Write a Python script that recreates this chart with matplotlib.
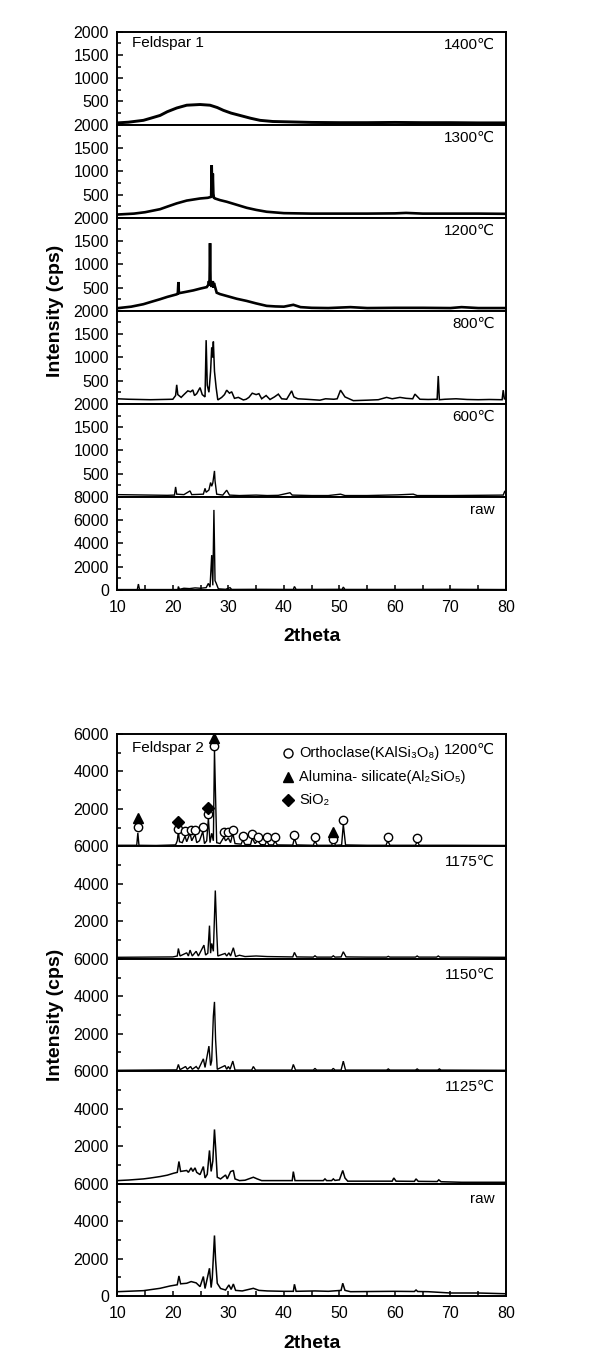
# Imports
import matplotlib
matplotlib.use("Agg")
import matplotlib.pyplot as plt
import numpy as np
from matplotlib.ticker import MultipleLocator, FixedLocator

# Fonts (DejaVu Sans as fallback for the degree sign and subscripts)
plt.rcParams["font.family"] = ["Liberation Sans", "DejaVu Sans"]

# Feldspar 1 patterns, (2theta, intensity in cps)
f1_1400 = [(10, 40), (12, 55), (14.7, 95), (16, 140), (17.7, 200), (19, 280), (20.7, 360),
           (22.5, 420), (24.9, 435), (26.7, 420), (28, 370), (29.1, 310), (30.5, 250),
           (32.1, 200), (34, 140), (35.7, 95), (38, 70), (41.6, 60), (45, 50), (50, 45),
           (55, 45), (60, 50), (65, 45), (70, 45), (75, 40), (80, 40)]
f1_1300 = [(10, 70), (13, 90), (15, 120), (17.7, 185), (19, 240), (20.7, 310), (22.5, 370),
           (24.9, 415), (26.3, 430), (26.9, 450), (27.0, 1130), (27.1, 450), (27.2, 950),
           (27.3, 520), (27.4, 430), (27.6, 415), (28.5, 380), (29.7, 345), (31.5, 280),
           (33.3, 215), (35, 170), (36.9, 130), (40, 100), (45, 90), (50, 90), (55, 90),
           (60, 95), (62, 105), (65, 90), (70, 90), (75, 90), (80, 85)]
f1_1200 = [(10, 57), (12.5, 90), (14.7, 143), (16, 190), (17.7, 250), (19, 300), (20.7, 355),
           (20.9, 370), (21.0, 620), (21.1, 380), (22, 400), (23.7, 440), (25, 480),
           (26.1, 510), (26.4, 560), (26.5, 640), (26.6, 540), (26.7, 1455), (26.8, 560),
           (27.0, 520), (27.2, 640), (27.3, 500), (27.4, 600), (27.9, 390), (28.5, 360),
           (29.7, 320), (31.5, 260), (33.3, 213), (35, 160), (36.9, 107), (38.5, 95),
           (40, 90), (41.7, 130), (43, 80), (45, 65), (48, 60), (50, 70), (52, 80),
           (55, 60), (60, 65), (65, 65), (70, 60), (72, 80), (75, 60), (80, 60)]
f1_800 = [(10, 110), (12, 100), (14, 95), (16, 90), (18, 95), (20, 100), (20.5, 180),
          (20.7, 410), (20.9, 200), (21.5, 140), (22, 200), (22.7, 280), (23.2, 260),
          (23.6, 300), (23.9, 180), (24.3, 220), (24.9, 350), (25.3, 200), (25.8, 150),
          (26.0, 1370), (26.2, 400), (26.5, 250), (26.8, 700), (27.0, 1210), (27.15, 1000),
          (27.3, 1340), (27.5, 700), (27.8, 350), (28.1, 85), (28.8, 140), (29.3, 200),
          (29.7, 295), (30.2, 230), (30.6, 260), (31.1, 120), (31.8, 140), (32.7, 85),
          (33.2, 100), (33.7, 140), (34.3, 230), (35.0, 200), (35.5, 220), (36.0, 110),
          (36.8, 180), (37.5, 95), (38.3, 150), (39.0, 210), (39.6, 110), (40.5, 100),
          (41.4, 280), (41.8, 150), (42.5, 110), (44, 100), (46.5, 80), (47.5, 110),
          (49, 100), (49.6, 110), (50.2, 295), (51, 150), (52.5, 70), (55, 80), (57, 90),
          (58.5, 140), (59.5, 110), (60.9, 140), (62, 120), (63.2, 110), (63.6, 210),
          (64.5, 100), (66, 95), (67.6, 100), (67.8, 600), (68.0, 90), (69, 100), (71, 110),
          (73, 95), (75, 90), (77, 95), (79.3, 90), (79.5, 295), (79.7, 110), (80, 100)]
f1_600 = [(10, 50), (13, 45), (16, 40), (19, 35), (20.3, 40), (20.5, 215), (20.7, 60),
          (22, 50), (23.1, 130), (23.4, 50), (24.5, 55), (25.5, 60), (25.8, 185), (26.0, 100),
          (26.5, 150), (26.8, 310), (27.0, 230), (27.2, 300), (27.5, 560), (27.6, 345),
          (27.9, 60), (29, 40), (29.7, 145), (30.2, 40), (32, 30), (35, 40), (37, 30),
          (39, 35), (41.1, 90), (41.5, 40), (45, 30), (48, 30), (50.2, 60), (51, 30),
          (55, 30), (60.5, 45), (63.3, 60), (64, 30), (70, 30), (75, 35), (79.5, 40),
          (79.8, 130), (80, 50)]
f1_raw = [(10, 40), (13.6, 40), (13.8, 510), (14.0, 40), (18, 40), (20.9, 40), (21.0, 300),
          (21.2, 60), (22, 150), (23, 120), (24, 180), (25, 150), (26, 200), (26.4, 565),
          (26.7, 250), (27.0, 3000), (27.2, 400), (27.4, 6885), (27.6, 800), (27.8, 595),
          (28.2, 100), (29.5, 60), (30.3, 200), (30.6, 50), (35, 60), (41.7, 50), (41.9, 300),
          (42.2, 50), (50.5, 60), (50.7, 250), (51, 50), (60, 50), (70, 60), (80, 40)]

f1_patterns = [f1_1400, f1_1300, f1_1200, f1_800, f1_600, f1_raw]
f1_labels = ["1400℃", "1300℃", "1200℃", "800℃", "600℃", "raw"]
f1_tops = [2000, 2000, 2000, 2000, 2000, 8000]
f1_major = [500, 500, 500, 500, 500, 2000]
f1_minor = [250, 250, 250, 250, 250, 1000]
f1_widths = [2.1, 1.9, 1.9, 1.1, 1.0, 1.0]

# Feldspar 2 patterns, (2theta, intensity in cps)
f2_1200 = [(10, 60), (13.5, 60), (13.7, 720), (13.9, 60), (17, 50), (20.5, 80), (20.8, 300),
           (21.0, 800), (21.2, 250), (21.7, 200), (22.2, 550), (22.5, 250), (23.1, 710),
           (23.4, 300), (24.0, 650), (24.3, 200), (24.8, 300), (25.4, 800), (25.7, 150),
           (26.1, 300), (26.4, 1490), (26.7, 200), (27.0, 700), (27.3, 300), (27.5, 5150),
           (27.7, 2600), (27.9, 200), (28.5, 150), (29.2, 500), (29.5, 300), (30.0, 450),
           (30.4, 200), (30.8, 700), (31.2, 150), (32.3, 120), (32.6, 350), (33, 100),
           (34.0, 100), (34.3, 450), (34.8, 150), (35.3, 300), (35.8, 100), (36.6, 80),
           (36.9, 300), (37.3, 80), (38.1, 80), (38.4, 300), (38.8, 80), (41.6, 70),
           (41.9, 450), (42.3, 80), (45.3, 60), (45.6, 300), (46, 60), (48.6, 60), (48.9, 300),
           (49.3, 60), (50.4, 80), (50.7, 1180), (51.1, 80), (55, 60), (58.4, 60), (58.7, 300),
           (59.1, 60), (63.7, 60), (64.0, 270), (64.4, 60), (70, 60), (80, 50)]
f2_1175 = [(10, 80), (15, 90), (20, 100), (20.8, 150), (21.0, 550), (21.3, 150), (22.5, 320),
           (22.8, 150), (23.1, 465), (23.5, 150), (24.2, 400), (24.6, 150), (25.6, 730),
           (25.9, 200), (26.3, 300), (26.6, 1770), (26.8, 300), (27.0, 820), (27.3, 400),
           (27.65, 3645), (27.9, 1480), (28.1, 150), (29.4, 285), (29.7, 150), (30.1, 320),
           (30.4, 150), (30.9, 590), (31.3, 120), (32.0, 190), (33, 120), (35, 150),
           (37, 120), (41.6, 100), (41.9, 340), (42.3, 100), (45.3, 90), (45.6, 160),
           (45.9, 90), (48.6, 90), (48.9, 160), (49.2, 90), (50.3, 100), (50.7, 375),
           (51.2, 100), (55, 90), (58.5, 90), (58.8, 130), (59.1, 90), (63.7, 90), (64, 150),
           (64.3, 90), (67.5, 90), (67.8, 150), (68.1, 90), (72, 90), (80, 80)]
f2_1150 = [(10, 50), (15, 60), (20.7, 70), (21.0, 360), (21.3, 80), (22.3, 250), (22.6, 100),
           (23.2, 250), (23.5, 100), (24.2, 250), (24.6, 100), (25.5, 660), (25.8, 200),
           (26.5, 1340), (26.8, 300), (27.0, 560), (27.3, 2950), (27.5, 3700), (27.7, 1700),
           (28.0, 100), (29.4, 300), (29.7, 100), (30.0, 250), (30.3, 100), (30.8, 540),
           (31.2, 60), (34.2, 60), (34.5, 250), (34.9, 60), (41.4, 60), (41.7, 360),
           (42.1, 60), (45.3, 60), (45.6, 150), (45.9, 60), (48.6, 60), (48.9, 150),
           (49.2, 60), (50.3, 60), (50.7, 536), (51.1, 60), (58.5, 60), (58.8, 120),
           (59.1, 60), (63.7, 60), (64, 120), (64.3, 60), (67.7, 60), (68, 120), (68.3, 60),
           (80, 50)]
f2_1125 = [(10, 160), (12, 190), (14.7, 250), (16, 300), (17.7, 375), (19, 450), (20.1, 550),
           (20.8, 600), (21.1, 1180), (21.4, 650), (22.5, 700), (22.8, 600), (23.3, 840),
           (23.6, 650), (24.0, 840), (24.3, 600), (24.9, 480), (25.5, 910), (25.8, 300),
           (26.2, 500), (26.6, 1770), (26.9, 650), (27.2, 1200), (27.5, 2890), (27.7, 1950),
           (28.0, 340), (28.6, 250), (29.5, 460), (29.8, 250), (30.4, 640), (30.9, 700),
           (31.2, 250), (32, 160), (33, 180), (34.5, 340), (35.2, 250), (36, 160), (38, 160),
           (41.5, 160), (41.7, 640), (42.0, 160), (45.6, 160), (47.1, 160), (47.4, 250),
           (47.7, 160), (48.6, 160), (48.9, 250), (49.2, 170), (50.0, 200), (50.6, 700),
           (51.0, 300), (51.5, 130), (55, 130), (59.5, 130), (59.8, 300), (60.2, 130),
           (63.5, 120), (63.8, 250), (64.2, 120), (67.6, 110), (67.9, 200), (68.3, 100),
           (72, 70), (80, 70)]
f2_raw = [(10, 230), (14.7, 285), (17.7, 410), (19.5, 535), (20.8, 600), (21.1, 1070),
          (21.4, 650), (22.5, 680), (23.3, 770), (24.2, 700), (24.9, 500), (25.5, 1040),
          (25.8, 400), (26.6, 1480), (26.9, 450), (27.1, 950), (27.5, 3230), (27.7, 1930),
          (28.0, 680), (28.6, 400), (29.5, 320), (30.1, 590), (30.5, 350), (30.9, 640),
          (31.3, 300), (32.5, 270), (34.5, 410), (35.5, 300), (37, 270), (40, 250),
          (41.7, 250), (41.9, 625), (42.2, 250), (45.6, 270), (48, 250), (50.3, 300),
          (50.6, 680), (51, 300), (52, 230), (59.8, 250), (63.5, 240), (63.8, 320),
          (64.1, 240), (66, 230), (70, 160), (75, 160), (80, 120)]

f2_patterns = [f2_1200, f2_1175, f2_1150, f2_1125, f2_raw]
f2_labels = ["1200℃", "1175℃", "1150℃", "1125℃", "raw"]
f2_tops = [6000, 6000, 6000, 6000, 6000]
f2_major = [2000, 2000, 2000, 2000, 2000]
f2_minor = [1000, 1000, 1000, 1000, 1000]
f2_widths = [1.0, 1.0, 1.0, 1.1, 1.1]

# Phase markers on the Feldspar 2, 1200 C pattern
ortho_x = [13.7, 21.0, 22.2, 23.3, 24.0, 25.4, 26.4, 27.5, 29.2, 30.0, 30.8, 32.6, 34.3,
           35.3, 36.9, 38.4, 41.9, 45.6, 48.9, 50.7, 58.7, 64.0]
ortho_y = [1020, 950, 840, 900, 860, 1020, 1710, 5350, 770, 760, 850, 540, 670,
           500, 500, 500, 630, 500, 410, 1400, 500, 470]
alumina_x = [13.7, 27.5, 48.9]
alumina_y = [1530, 5760, 770]
sio2_x = [21.0, 26.4]
sio2_y = [1310, 2070]

# Figure geometry in pixels
FIG_W, FIG_H = 609, 1371
LEFT, RIGHT = 117.3, 506


def draw_stack(fig, top_px, bottom_px, patterns, labels, tops, majors, minors, widths, title):
    # Split the panel into equal sub-axes
    n = len(patterns)
    h = (bottom_px - top_px) / n
    axes = []
    for i in range(n):
        y0 = FIG_H - (top_px + (i + 1) * h)
        ax = fig.add_axes([LEFT / FIG_W, y0 / FIG_H, (RIGHT - LEFT) / FIG_W, h / FIG_H])

        # Plot the pattern
        data = np.array(patterns[i])
        ax.plot(data[:, 0], data[:, 1], color="black", lw=widths[i], solid_joinstyle="miter")

        # Axis limits and ticks
        ax.set_xlim(10, 80)
        ax.set_ylim(0, tops[i])
        ticks = np.arange(0, tops[i] + 1, majors[i])
        if i < n - 1:
            ticks = ticks[1:]
        ax.yaxis.set_major_locator(FixedLocator(ticks))
        ax.yaxis.set_minor_locator(MultipleLocator(minors[i]))
        ax.tick_params(axis="y", which="both", direction="in", labelsize=11.5, pad=6,
                       width=1.1, left=True, right=False)
        ax.tick_params(axis="y", which="major", length=4.5)
        ax.tick_params(axis="y", which="minor", length=3)

        if i == n - 1:
            ax.xaxis.set_major_locator(MultipleLocator(10))
            ax.xaxis.set_minor_locator(MultipleLocator(5))
            ax.tick_params(axis="x", which="both", direction="in", length=3.5, width=1.1,
                           labelsize=11.5, pad=7)
        else:
            ax.tick_params(axis="x", which="both", bottom=False, labelbottom=False)

        for spine in ax.spines.values():
            spine.set_linewidth(1.4)

        # Temperature label
        ax.text(0.972, 0.86, labels[i], transform=ax.transAxes, ha="right", va="center",
                fontsize=11)
        axes.append(ax)

    # Sample name
    axes[0].text(0.038, 0.875, title, transform=axes[0].transAxes, ha="left", va="center",
                 fontsize=11)

    # Axis titles
    fig.text(55 / FIG_W, 1 - (top_px + bottom_px) / 2 / FIG_H, "Intensity (cps)",
             rotation=90, ha="center", va="center", fontsize=14, fontweight="bold")
    fig.text((LEFT + RIGHT) / 2 / FIG_W, 1 - (bottom_px + 47) / FIG_H, "2theta",
             ha="center", va="center", fontsize=14, fontweight="bold")
    return axes


# Define the main function
def main():
    # Create a figure
    fig = plt.figure(figsize=(FIG_W / 100, FIG_H / 100), dpi=100)

    # Feldspar 1
    draw_stack(fig, 31.7, 590, f1_patterns, f1_labels, f1_tops, f1_major, f1_minor,
               f1_widths, "Feldspar 1")

    # Feldspar 2
    axes2 = draw_stack(fig, 734, 1296, f2_patterns, f2_labels, f2_tops, f2_major, f2_minor,
                       f2_widths, "Feldspar 2")

    # Phase markers and their key
    ax = axes2[0]
    ax.plot(ortho_x, ortho_y, "o", ms=6, mfc="white", mec="black", mew=1.0, clip_on=False)
    ax.plot(alumina_x, alumina_y, "^", ms=7, color="black", clip_on=False)
    ax.plot(sio2_x, sio2_y, "D", ms=6, color="black", clip_on=False)

    key = [("o", "white", 0.835, "Orthoclase(KAlSi₃O₈)"),
           ("^", "black", 0.62, "Alumina- silicate(Al₂SiO₅)"),
           ("D", "black", 0.41, "SiO₂")]
    for marker, face, yf, text in key:
        ax.plot([0.438], [yf], marker, ms=6.5 if marker != "D" else 6, mfc=face,
                mec="black", mew=1.0, transform=ax.transAxes, clip_on=False)
        ax.text(0.468, yf, text, transform=ax.transAxes, ha="left", va="center",
                fontsize=10.5)

    # Save the plot
    fig.savefig("out.png", dpi=100)


# Run the main function
if __name__ == "__main__":
    main()
